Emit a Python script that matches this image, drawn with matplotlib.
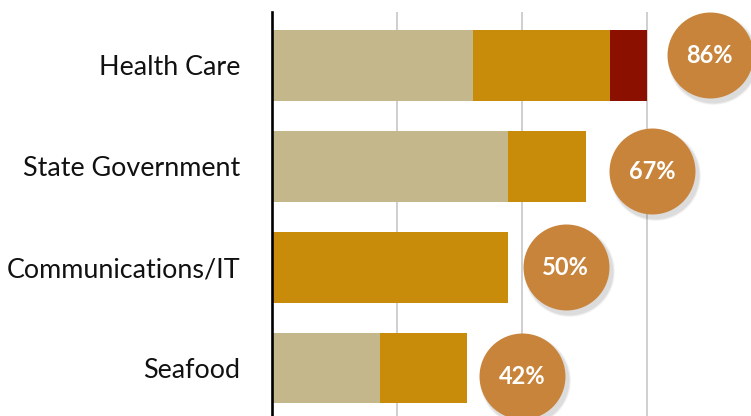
import numpy as np
import matplotlib.pyplot as plt

plt.rcParams['font.family'] = ['Lato', 'DejaVu Sans']

categories = ['Health Care', 'State Government', 'Communications/IT', 'Seafood']
beige_vals = [16.1, 18.9, 0.0, 8.6]
gold_vals = [10.9, 6.2, 18.9, 7.0]
red_vals = [3.0, 0.0, 0.0, 0.0]
pct_labels = ['86%', '67%', '50%', '42%']

# small nudges for the bubble badges (x in data units past bar end, y in rows)
badge_dx = [5.0, 5.3, 4.6, 4.4]
badge_dy = [-0.10, 0.05, 0.0, 0.08]

c_beige = '#C5B78C'
c_gold = '#C98B0A'
c_red = '#8B1000'
c_badge = '#C8843A'

fig = plt.figure(figsize=(7.51, 4.16), dpi=100)
ax = fig.add_axes([272 / 751, 0, 1 - 272 / 751, 1 - 12 / 416])

y = np.arange(len(categories))
beige = np.array(beige_vals)
gold = np.array(gold_vals)
red = np.array(red_vals)

ax.barh(y, beige, height=0.70, color=c_beige, zorder=2)
ax.barh(y, gold, left=beige, height=0.70, color=c_gold, zorder=2)
ax.barh(y, red, left=beige + gold, height=0.70, color=c_red, zorder=2)

totals = beige + gold + red
bx = totals + np.array(badge_dx)
by = y + np.array(badge_dy)
# soft shadow
for k, a in enumerate([0.05, 0.07, 0.09]):
    ax.scatter(bx + 0.25, by + 0.04, s=3832 * (1.12 - 0.04 * k), color='#555555',
               alpha=a, linewidths=0, zorder=3, clip_on=False)
ax.scatter(bx, by, s=3832, color=c_badge, linewidths=0, zorder=4, clip_on=False)
for xi, yi, lab in zip(bx, by, pct_labels):
    ax.text(xi, yi, lab, color='white', fontsize=17, fontweight='bold',
            ha='center', va='center', zorder=5)

ax.set_xlim(0, (751 - 272) / 12.5)
ax.set_ylim(3.474, -0.53)
ax.set_xticks([10, 20, 30])
ax.set_xticklabels([])
ax.tick_params(axis='x', length=0)
ax.xaxis.grid(True, color='#CCCCCC', linewidth=1.3, zorder=0)
ax.set_axisbelow(True)

ax.set_yticks(y)
ax.set_yticklabels(categories, fontsize=19.4, color='#111111')
ax.tick_params(axis='y', length=0, pad=23)

for s in ['top', 'right', 'bottom']:
    ax.spines[s].set_visible(False)
ax.spines['left'].set_linewidth(1.9)
ax.spines['left'].set_color('black')

fig.savefig('out.png', dpi=100)
